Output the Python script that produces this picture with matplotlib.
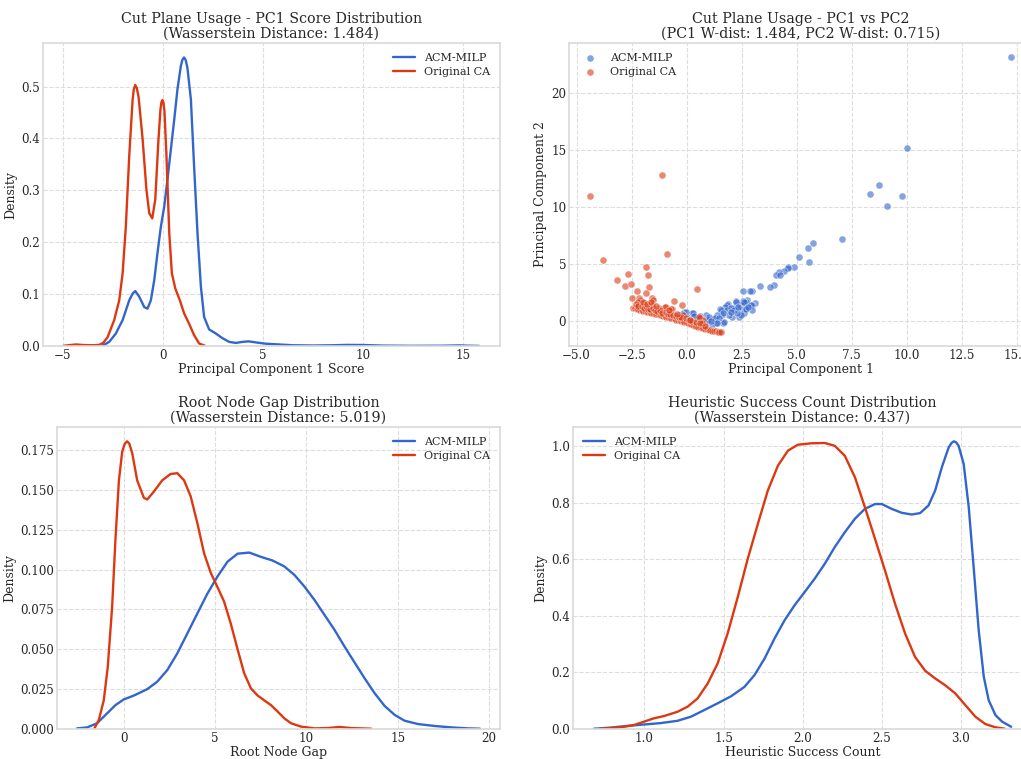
import numpy as np
import matplotlib
matplotlib.use("Agg")
import matplotlib.pyplot as plt

# colours
BLUE = "#3366CC"
RED = "#DC3912"

# --- PC1 score density ---
pc1_acm_x = [-3.0, -2.68, -2.35, -2.01, -1.68, -1.51, -1.38, -1.18, -0.93, -0.77, -0.6, -0.43,
             -0.27, -0.1, 0.07, 0.23, 0.4, 0.57, 0.73, 0.9, 0.98, 1.06, 1.14, 1.23, 1.4, 1.56,
             1.73, 1.9, 2.06, 2.31, 2.65, 2.98, 3.31, 3.64, 3.98, 4.28, 4.64, 5.14, 5.81, 6.5,
             7.5, 8.5, 9.2, 10.0, 11.0, 12.5, 14.0, 14.8, 15.3, 15.8]
pc1_acm_y = [0.001, 0.008, 0.024, 0.05, 0.088, 0.101, 0.106, 0.095, 0.075, 0.072, 0.088, 0.127,
             0.179, 0.23, 0.269, 0.321, 0.379, 0.437, 0.495, 0.54, 0.552, 0.556, 0.551, 0.535,
             0.475, 0.346, 0.217, 0.114, 0.056, 0.032, 0.024, 0.015, 0.008, 0.006, 0.008,
             0.009, 0.007, 0.0045, 0.003, 0.0015, 0.001, 0.0015, 0.0022, 0.002, 0.0008,
             0.0004, 0.0006, 0.0012, 0.0006, 0.0002]
pc1_ca_x = [-4.95, -4.6, -4.33, -4.0, -3.6, -3.2, -2.98, -2.76, -2.43, -2.18, -2.01, -1.85,
            -1.68, -1.51, -1.45, -1.38, -1.3, -1.21, -1.01, -0.82, -0.68, -0.53, -0.38, -0.22,
            -0.12, -0.07, -0.02, 0.03, 0.08, 0.18, 0.32, 0.45, 0.62, 0.85, 1.06, 1.31, 1.56,
            1.81, 2.1]
pc1_ca_y = [0.0005, 0.002, 0.003, 0.002, 0.0015, 0.002, 0.006, 0.017, 0.05, 0.088, 0.14, 0.23,
            0.366, 0.475, 0.495, 0.503, 0.497, 0.479, 0.398, 0.301, 0.256, 0.246, 0.282,
            0.398, 0.456, 0.47, 0.474, 0.469, 0.452, 0.366, 0.217, 0.14, 0.111, 0.088, 0.063,
            0.043, 0.021, 0.005, 0.0005]

# --- PC1 vs PC2 scatter ---
sc_acm_x = [14.73, 10.01, 8.75, 8.31, 9.77, 9.11, 7.06, 5.75, 5.5, 5.1, 5.57, 4.87, 4.58, 4.62,
            4.4, 4.2, 4.05, 4.25, 3.97, 3.79, 3.32, 2.97, 2.87, 2.54, 3.08, 2.97, 2.75, 2.7,
            2.56, 2.24, 2.45, 2.3, 2.12, 1.89, 1.84, 1.72, 1.51, 1.54, 1.84, 2.0, 2.15, 2.53,
            2.68, 2.91, 2.98, 2.6, 2.7, 2.39, 2.06, 2.45, 1.92, 1.61, 1.63, 1.39, 1.66, 1.69,
            1.25, 1.3, 1.48, 1.32, 1.16, 1.39, 0.86, 0.93, 0.98, 0.7, 0.48, 0.22, 0.28, -0.1,
            -0.04, 0.02, -0.36, 2.3, 2.0, 2.22, 2.62, 2.35, 1.0, 0.6, -0.2, 1.1, 0.35, 2.8]
sc_acm_y = [23.17, 15.18, 11.95, 11.1, 10.98, 10.04, 7.14, 6.78, 6.42, 5.58, 5.17, 4.67, 4.67,
            4.6, 4.38, 4.3, 4.03, 4.0, 3.1, 2.94, 3.06, 2.56, 2.56, 2.62, 1.56, 1.38, 1.82,
            1.67, 1.73, 1.73, 1.41, 1.23, 1.09, 1.44, 1.38, 1.23, 1.0, 0.94, 0.94, 1.09, 0.94,
            0.94, 1.09, 1.38, 0.94, 0.65, 1.0, 0.35, 0.35, 0.5, 0.5, 0.5, 0.65, 0.53, -0.18,
            -0.09, 0.12, 0.21, 0.21, -0.23, -0.38, -0.23, 0.5, -0.09, 0.06, 0.06, 0.21, 0.7,
            0.65, 0.79, 0.79, 0.35, 0.5, 0.65, 0.79, 1.67, 1.67, 1.23, 0.3, 0.4, 0.6, 0.0,
            0.45, 1.2]
sc_ca_x = [-4.39, -3.79, -1.12, -0.89, -3.15, -2.67, -2.8, -2.55, -1.87, -1.78, -1.73, -1.86,
           -2.25, -2.5, -2.15, -1.58, 0.47, -0.59, -0.2, -0.95, -0.68, -2.1, -2.2, -1.96,
           -1.51, -1.56, -1.25, -0.97, -0.7, -0.17, 0.59, 0.74,
           -2.42, -2.35, -2.28, -2.2, -2.12, -2.05, -1.98, -1.9, -1.82, -1.75, -1.68, -1.6,
           -1.52, -1.45, -1.38, -1.3, -1.22, -1.15, -1.08, -1.0, -0.92, -0.85, -0.78, -0.7,
           -0.62, -0.55, -0.48, -0.4, -0.32, -0.25, -0.18, -0.1, -0.02, 0.05, 0.13, 0.2, 0.28,
           0.36, 0.44, 0.52, 0.6, 0.68, 0.76, 0.84, 0.92, 1.0, 1.08, 1.16, 1.24, 1.32, 1.4,
           1.48, 1.54,
           -2.3, -2.22, -2.05, -1.95, -1.85, -1.75, -1.65, -1.55, -1.45, -1.35, -1.2, -1.1,
           -0.95, -0.85, -0.75, -0.6, -0.5, -0.35, -0.25, -0.05, 0.1, 0.25, 0.4, 0.55, 0.7,
           -2.0, -1.8, -1.62, -1.4, -0.8, -0.45, 0.15, 0.6, 0.85]
sc_ca_y = [10.93, 5.29, 12.78, 5.85, 3.59, 4.09, 3.0, 3.23, 4.67, 4.03, 2.94, 2.41, 2.56, 2.03,
           1.97, 1.97, 2.76, 1.74, 1.38, 1.17, 1.06, 1.8, 1.68, 1.53, 1.82, 1.38, 1.09, 1.17,
           1.0, 0.5, 0.21, 0.06,
           1.1, 1.08, 1.04, 1.0, 0.96, 0.92, 0.88, 0.84, 0.8, 0.77, 0.73, 0.7, 0.66, 0.62,
           0.58, 0.54, 0.5, 0.46, 0.42, 0.39, 0.35, 0.31, 0.27, 0.23, 0.19, 0.15, 0.1, 0.06,
           0.02, -0.03, -0.07, -0.11, -0.16, -0.21, -0.27, -0.33, -0.39, -0.45, -0.5, -0.55,
           -0.6, -0.64, -0.68, -0.72, -0.76, -0.8, -0.84, -0.88, -0.91, -0.94, -0.97, -1.0,
           -1.02,
           1.45, 1.3, 1.25, 1.15, 1.3, 1.0, 1.05, 1.1, 0.95, 0.85, 0.95, 0.7, 0.8, 0.6, 0.55,
           0.5, 0.45, 0.3, 0.35, 0.2, 0.1, -0.05, -0.1, 0.3, -0.25,
           1.6, 1.5, 1.65, 1.3, 0.9, 0.6, 0.05, -0.2, -0.45]

# --- root node gap density ---
gap_acm_x = [-2.56, -2.01, -1.47, -0.92, -0.46, 0.0, 0.55, 1.28, 1.83, 2.38, 2.93, 3.48, 4.03,
             4.58, 5.13, 5.68, 6.23, 6.87, 7.51, 8.15, 8.79, 9.34, 9.89, 10.44, 10.99, 11.54,
             12.09, 12.64, 13.19, 13.74, 14.29, 14.84, 15.38, 16.12, 17.03, 17.95, 18.86, 19.5]
gap_acm_y = [0.0004, 0.001, 0.0036, 0.0098, 0.015, 0.0186, 0.021, 0.025, 0.0297, 0.037, 0.0475,
             0.06, 0.0726, 0.085, 0.0957, 0.105, 0.11, 0.1107, 0.108, 0.1057, 0.102, 0.0967,
             0.0894, 0.081, 0.0716, 0.0622, 0.0517, 0.0417, 0.0318, 0.0224, 0.0144, 0.0088,
             0.0052, 0.0031, 0.0019, 0.001, 0.0004, 0.0002]
gap_ca_x = [-1.61, -1.37, -1.1, -0.88, -0.64, -0.46, -0.27, -0.09, 0.05, 0.18, 0.3, 0.46,
            0.73, 1.1, 1.28, 1.65, 2.1, 2.56, 2.93, 3.3, 3.66, 4.03, 4.4, 4.76, 5.13, 5.49,
            5.86, 6.23, 6.59, 6.96, 7.33, 7.69, 8.06, 8.42, 8.79, 9.16, 9.71, 10.44, 11.17,
            11.81, 12.45, 13.55]
gap_ca_y = [0.0004, 0.0057, 0.018, 0.039, 0.077, 0.119, 0.156, 0.174, 0.179, 0.1805, 0.179,
            0.173, 0.156, 0.145, 0.144, 0.149, 0.156, 0.16, 0.1605, 0.156, 0.146, 0.129, 0.11,
            0.098, 0.089, 0.08, 0.066, 0.05, 0.035, 0.0255, 0.021, 0.018, 0.015, 0.011,
            0.0067, 0.0036, 0.0015, 0.0004, 0.0006, 0.0013, 0.0006, 0.0002]

# --- heuristic success count density ---
heu_acm_x = [0.681, 0.786, 0.892, 0.998, 1.104, 1.209, 1.294, 1.378, 1.463, 1.548, 1.632,
             1.696, 1.759, 1.822, 1.886, 1.949, 2.013, 2.076, 2.14, 2.203, 2.266, 2.33, 2.393,
             2.457, 2.5, 2.562, 2.626, 2.689, 2.742, 2.795, 2.837, 2.879, 2.922, 2.94, 2.955,
             2.97, 2.985, 3.017, 3.049, 3.08, 3.112, 3.144, 3.175, 3.218, 3.26, 3.317]
heu_acm_y = [0.001, 0.005, 0.011, 0.016, 0.021, 0.029, 0.0435, 0.067, 0.091, 0.116, 0.149,
             0.191, 0.249, 0.32, 0.385, 0.438, 0.485, 0.532, 0.585, 0.644, 0.696, 0.744, 0.779,
             0.796, 0.796, 0.779, 0.765, 0.759, 0.764, 0.791, 0.844, 0.926, 0.996, 1.012,
             1.018, 1.014, 1.002, 0.938, 0.785, 0.573, 0.349, 0.185, 0.102, 0.049, 0.026, 0.008]
heu_ca_x = [0.723, 0.85, 0.934, 0.998, 1.061, 1.125, 1.209, 1.273, 1.336, 1.4, 1.463, 1.526,
            1.59, 1.653, 1.717, 1.78, 1.844, 1.907, 1.97, 2.055, 2.14, 2.203, 2.266, 2.33,
            2.393, 2.457, 2.52, 2.583, 2.647, 2.71, 2.774, 2.837, 2.9, 2.964, 3.027, 3.091,
            3.154, 3.218, 3.277]
heu_ca_y = [0.001, 0.006, 0.014, 0.026, 0.038, 0.046, 0.061, 0.079, 0.108, 0.161, 0.232,
            0.338, 0.467, 0.602, 0.726, 0.844, 0.932, 0.985, 1.006, 1.011, 1.012, 1.002, 0.967,
            0.891, 0.785, 0.673, 0.561, 0.444, 0.338, 0.255, 0.206, 0.179, 0.155, 0.126,
            0.085, 0.0435, 0.0176, 0.006, 0.001]

plt.style.use("seaborn-v0_8-whitegrid")
plt.rcParams["font.family"] = ["DejaVu Serif"]
plt.rcParams["grid.linestyle"] = "--"
plt.rcParams["grid.color"] = "#dddddd"
plt.rcParams["axes.edgecolor"] = "#d9d9d9"
plt.rcParams["axes.linewidth"] = 1.2
plt.rcParams["text.color"] = "#262626"
plt.rcParams["axes.labelcolor"] = "#262626"
plt.rcParams["xtick.color"] = "#262626"
plt.rcParams["ytick.color"] = "#262626"
plt.rcParams["lines.solid_joinstyle"] = "round"

TITLE_FS = 10.3
LABEL_FS = 9.0
TICK_FS = 8.6
LEG_FS = 8.0

fig = plt.figure(figsize=(10.21, 7.59), dpi=100)
ax1 = fig.add_axes([0.0421, 0.5441, 0.4476, 0.3992])
ax2 = fig.add_axes([0.5573, 0.5441, 0.4535, 0.3992])
ax3 = fig.add_axes([0.0558, 0.0395, 0.4339, 0.3980])
ax4 = fig.add_axes([0.5612, 0.0395, 0.4496, 0.3980])


def kde_panel(ax, ax_, ay_, cx_, cy_, title, xlabel, loc):
    ax.plot(ax_, ay_, color=BLUE, lw=1.7, label="ACM-MILP")
    ax.plot(cx_, cy_, color=RED, lw=1.7, label="Original CA")
    ax.set_ylim(0, ax.get_ylim()[1])
    ax.set_title(title, fontsize=TITLE_FS, pad=4, linespacing=1.0)
    ax.set_xlabel(xlabel, fontsize=LABEL_FS, labelpad=1)
    ax.set_ylabel("Density", fontsize=LABEL_FS, labelpad=3)
    ax.tick_params(labelsize=TICK_FS, pad=2)
    ax.legend(loc=loc, fontsize=LEG_FS, frameon=False, labelspacing=0.35)


kde_panel(ax1, pc1_acm_x, pc1_acm_y, pc1_ca_x, pc1_ca_y,
          "Cut Plane Usage - PC1 Score Distribution\n(Wasserstein Distance: 1.484)",
          "Principal Component 1 Score", "upper right")

ax2.scatter(sc_acm_x, sc_acm_y, s=26, color=BLUE, alpha=0.6, edgecolor="white",
            linewidth=0.5, label="ACM-MILP")
ax2.scatter(sc_ca_x, sc_ca_y, s=26, color=RED, alpha=0.6, edgecolor="white",
            linewidth=0.5, label="Original CA")
ax2.set_title("Cut Plane Usage - PC1 vs PC2\n(PC1 W-dist: 1.484, PC2 W-dist: 0.715)",
              fontsize=TITLE_FS, pad=4, linespacing=1.0)
ax2.set_xlabel("Principal Component 1", fontsize=LABEL_FS, labelpad=1)
ax2.set_ylabel("Principal Component 2", fontsize=LABEL_FS, labelpad=3)
ax2.tick_params(labelsize=TICK_FS, pad=2)
ax2.legend(loc="upper left", fontsize=LEG_FS, frameon=False, labelspacing=0.35)

kde_panel(ax3, gap_acm_x, gap_acm_y, gap_ca_x, gap_ca_y,
          "Root Node Gap Distribution\n(Wasserstein Distance: 5.019)",
          "Root Node Gap", "upper right")

kde_panel(ax4, heu_acm_x, heu_acm_y, heu_ca_x, heu_ca_y,
          "Heuristic Success Count Distribution\n(Wasserstein Distance: 0.437)",
          "Heuristic Success Count", "upper left")

fig.savefig("out.png", dpi=100)
